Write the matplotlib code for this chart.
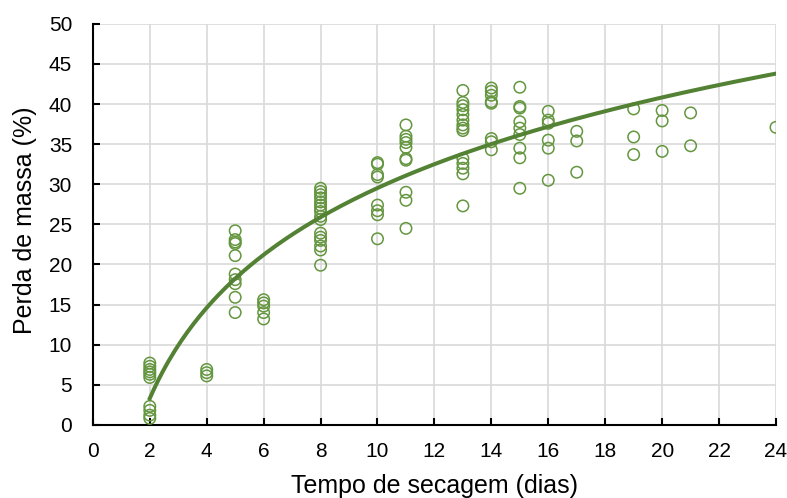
import numpy as np
import matplotlib.pyplot as plt

plt.rcParams['font.family'] = ['Liberation Sans', 'DejaVu Sans']

# dias de secagem e perda de massa observada (%)
dias = [2]*10 + [4]*3 + [5]*10 + [6]*5 + [8]*16 + [10]*8 + [11]*10 + [13]*14 \
    + [14]*8 + [15]*9 + [16]*6 + [17]*3 + [19]*3 + [20]*3 + [21]*2 + [24]
perda = [7.7, 7.3, 6.9, 6.6, 6.3, 5.9, 2.3, 1.8, 1.2, 0.8,
         6.9, 6.5, 6.1,
         24.2, 23.1, 22.8, 22.6, 21.1, 18.8, 18.1, 17.6, 15.9, 14.0,
         15.6, 15.2, 14.8, 14.0, 13.2,
         29.5, 29.1, 28.7, 28.3, 27.8, 27.4, 27.0, 26.6, 26.0, 25.6, 23.9, 23.4, 23.0, 22.3, 21.8, 19.9,
         32.7, 32.5, 31.2, 30.9, 27.4, 26.7, 26.2, 23.2,
         37.4, 36.0, 35.6, 35.2, 34.6, 33.2, 33.0, 29.0, 28.0, 24.5,
         41.7, 40.2, 39.8, 39.3, 38.7, 38.0, 37.4, 37.0, 36.7, 33.2, 32.6, 32.0, 31.3, 27.3,
         42.0, 41.6, 41.1, 40.3, 40.1, 35.7, 35.3, 34.3,
         42.1, 39.7, 39.5, 37.8, 37.0, 36.2, 34.5, 33.3, 29.5,
         39.1, 38.0, 37.6, 35.5, 34.5, 30.5,
         36.6, 35.4, 31.5,
         39.4, 35.9, 33.7,
         39.2, 37.9, 34.1,
         38.9, 34.8,
         37.1]

# ajuste logaritmico: y = a ln(x) + b
a, b = 16.3, -8.0
x_fit = np.linspace(2, 24, 200)
y_fit = a*np.log(x_fit) + b

fig = plt.figure(figsize=(7.87, 4.98), dpi=100)
ax = fig.add_axes([0.118, 0.147, 0.868, 0.805])

ax.scatter(dias, perda, s=68, facecolors='none', edgecolors='#64963f', linewidths=1.1, zorder=3)
ax.plot(x_fit, y_fit, color='#548235', lw=2.9, zorder=4)

ax.set_xlim(0, 24)
ax.set_ylim(0, 50)
ax.set_xticks(range(0, 25, 2))
ax.set_yticks(range(0, 51, 5))
ax.grid(True, color='#d9d9d9', lw=1.2)
ax.set_axisbelow(True)
for s in ['top', 'right']:
    ax.spines[s].set_visible(False)
for s in ['left', 'bottom']:
    ax.spines[s].set_linewidth(1.5)
ax.tick_params(direction='in', length=5, width=1.5, labelsize=15)
ax.tick_params(axis='x', pad=12.5)
ax.tick_params(axis='y', pad=15)

ax.set_xlabel('Tempo de secagem (dias)', fontsize=18, va='center')
ax.set_ylabel('Perda de massa (%)', fontsize=18, va='center', ha='center')
ax.xaxis.set_label_coords(0.5, -0.152)
ax.yaxis.set_label_coords(-0.1, 0.51)

fig.savefig('out.png', dpi=100)
